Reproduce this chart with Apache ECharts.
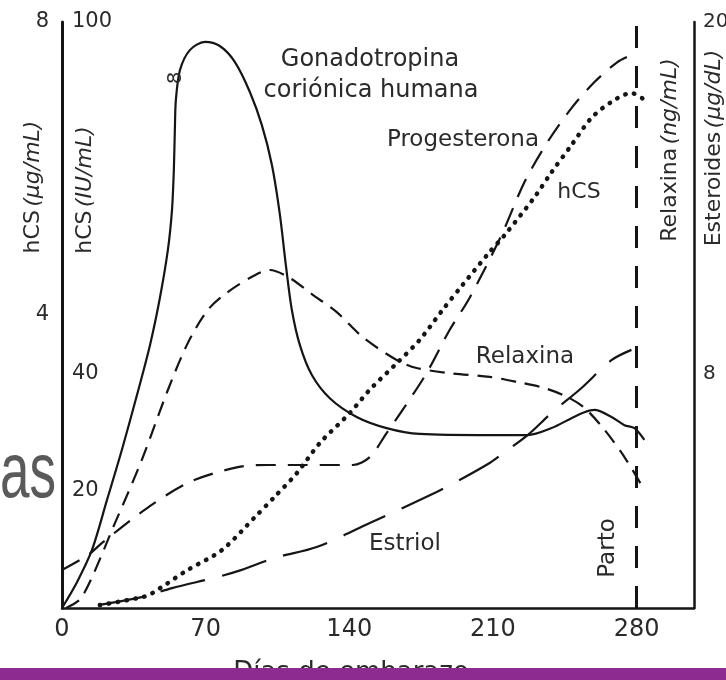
<!DOCTYPE html>
<html><head><meta charset="utf-8">
<script src="https://cdn.jsdelivr.net/npm/echarts@6/dist/echarts.min.js"></script>
<style>html,body{margin:0;padding:0;background:#fff;}#c{width:726px;height:680px;}</style>
</head><body><div id="c"></div>
<script>
// ---- data ----
const dayTicks = [0, 70, 140, 210, 280];
const hcgTickLabels = [20, 40, 100];      // hCS (IU/mL) axis, used for hCG curve
const hcsTickLabels = [4, 8];             // hCS (µg/mL)
const relaxinTickLabels = [0.5, 1.25];    // Relaxina (ng/mL)
const steroidTickLabels = [8, 20];        // Esteroides (µg/dL)
const partoDay = 280;

const hcgDays   = [0,7.3,14.6,21.9,29.2,36.5,42.9,47.7,51.6,53.6,54.5,55.0,55.5,57.5,62.3,69.6,76.9,84.2,91.5,97.4,102.3,106.2,109.1,112.0,115.9,121.7,130.5,143.6,158.2,174.3,208.4,226.9,238.6,248.3,254.6,259.5,267.8,274.1,279.0,283.8];
const hcgValues = [0,4.4,9.9,18.4,27.0,36.3,44.9,52.9,61.1,67.9,74.7,81.6,86.7,91.8,95.2,96.6,95.9,93.2,88.1,82.4,75.6,67.1,58.5,50.9,44.9,39.8,35.8,32.6,30.7,29.7,29.5,29.5,30.7,32.4,33.4,33.8,32.6,31.2,30.7,28.7];

const hcsDays   = [18.5,39.4,43.8,61.3,77.9,94.0,103.7,114.4,125.6,140.2,150.0,163.1,174.3,185.5,195.2,208.4,215.7,230.3,238.6,248.3,258.0,267.8,277.5,283.8];
const hcsValues = [0.04,0.15,0.20,0.52,0.79,1.24,1.52,1.84,2.25,2.66,2.98,3.34,3.66,4.07,4.41,4.86,5.09,5.61,5.95,6.32,6.69,6.91,7.03,6.94];

const progDays   = [0,12.7,19.5,38.9,61.3,85.7,100.3,115.9,141.7,150.0,158.2,166.0,177.7,188.9,198.6,214.2,225.4,236.6,248.3,259.5,270.7,277.5];
const progValues = [1.30,1.81,2.22,3.28,4.27,4.81,4.88,4.88,4.88,5.15,5.97,6.76,8.02,9.49,10.58,12.73,14.54,15.90,17.06,17.95,18.63,18.87];

const relaxDays   = [2,9.7,25.8,38.9,51.6,61.3,71.1,80.8,94.0,101.3,111.0,122.2,133.9,146.5,163.1,172.8,188.9,208.4,222.0,235.2,246.3,254.6,264.4,274.1,283.8];
const relaxValues = [0,0.023,0.181,0.316,0.465,0.565,0.636,0.674,0.710,0.721,0.704,0.668,0.631,0.578,0.529,0.512,0.501,0.493,0.482,0.469,0.450,0.427,0.380,0.322,0.252];

const estriolDays   = [17.5,39.4,53.6,75.9,87.6,103.7,124.1,150.0,182.6,193.8,208.4,215.7,226.9,238.6,253.2,267.8,277.5];
const estriolValues = [0.10,0.38,0.68,1.06,1.30,1.71,2.08,2.90,3.96,4.37,4.95,5.32,5.90,6.66,7.51,8.46,8.81];

// ---- chart ----
const zip = (a, b) => a.map((d, i) => [d, b[i]]);
const FONT = 'DejaVu Sans';
const INK = '#151515';
const TXT = '#2a2a2a';
const near = (list) => (v) => list.some(t => Math.abs(t - v) < 1e-9) ? String(v) : '';

const chart = echarts.init(document.getElementById('c'), null, {renderer: 'canvas'});

const lineBase = {type: 'line', symbol: 'none', silent: true, smooth: 0.3, z: 3};

chart.setOption({
  backgroundColor: '#ffffff',
  animation: false,
  grid: {left: 62, right: 32, top: 22, bottom: 72, containLabel: false, outerBoundsMode: 'none'},
  xAxis: {
    type: 'value', min: 0, max: 308, interval: 70,
    axisLine: {show: true, onZero: false, lineStyle: {color: INK, width: 2.5}},
    axisTick: {show: false}, splitLine: {show: false},
    axisLabel: {formatter: near(dayTicks), fontSize: 24, color: TXT, margin: 10, fontFamily: FONT}
  },
  yAxis: [
    { // hCG, IU/mL (inner left)
      type: 'value', position: 'left', min: 0, max: 100, interval: 20,
      axisLine: {show: true, onZero: false, lineStyle: {color: INK, width: 3}},
      axisTick: {show: false}, splitLine: {show: false},
      axisLabel: {inside: true, margin: 10, formatter: near(hcgTickLabels), fontSize: 21, color: TXT, fontFamily: FONT}
    },
    { // hCS, µg/mL (outer left)
      type: 'value', position: 'left', min: 0, max: 8, interval: 4,
      axisLine: {show: false}, axisTick: {show: false}, splitLine: {show: false},
      axisLabel: {margin: 13, formatter: near(hcsTickLabels), fontSize: 21, color: TXT, fontFamily: FONT}
    },
    { // Relaxina, ng/mL (at Parto line)
      type: 'value', position: 'right', offset: 57, min: 0, max: 1.25, interval: 0.25,
      axisLine: {show: false}, axisTick: {show: false}, splitLine: {show: false},
      axisLabel: {margin: 6, formatter: near(relaxinTickLabels), fontSize: 20, color: TXT, fontFamily: FONT}
    },
    { // Esteroides, µg/dL (outer right)
      type: 'value', position: 'right', offset: 0, min: 0, max: 20, interval: 4,
      axisLine: {show: true, onZero: false, lineStyle: {color: INK, width: 2.5}},
      axisTick: {show: false}, splitLine: {show: false},
      axisLabel: {margin: 9, formatter: near(steroidTickLabels), fontSize: 20, color: TXT, fontFamily: FONT}
    }
  ],
  series: [
    Object.assign({}, lineBase, {name: 'Gonadotropina coriónica humana', yAxisIndex: 0, data: zip(hcgDays, hcgValues),
      lineStyle: {color: INK, width: 2.2}}),
    Object.assign({}, lineBase, {name: 'hCS', yAxisIndex: 1, data: zip(hcsDays, hcsValues),
      lineStyle: {color: INK, width: 4.5, type: [0.5, 8.5], cap: 'round'}}),
    Object.assign({}, lineBase, {name: 'Progesterona', yAxisIndex: 3, data: zip(progDays, progValues),
      lineStyle: {color: INK, width: 2.2, type: [20, 12]}}),
    Object.assign({}, lineBase, {name: 'Relaxina', yAxisIndex: 2, data: zip(relaxDays, relaxValues),
      lineStyle: {color: INK, width: 2.2, type: [15, 9]},
      markLine: {silent: true, symbol: ['none', 'none'], label: {show: false},
        lineStyle: {color: INK, width: 3, type: [22, 18]}, data: [{xAxis: partoDay}]}}),
    Object.assign({}, lineBase, {name: 'Estriol', yAxisIndex: 3, data: zip(estriolDays, estriolValues),
      lineStyle: {color: INK, width: 2.2, type: [46, 18]}})
  ],
  graphic: [
    {type: 'text', x: 33, y: 187, rotation: Math.PI / 2, style: {text: '{a|hCS} {b|(µg/mL)}', align: 'center', verticalAlign: 'middle',
      rich: {a: {fontSize: 22, fontFamily: FONT, fill: TXT}, b: {fontSize: 22, fontFamily: FONT, fontStyle: 'italic', fill: TXT}}}},
    {type: 'text', x: 85, y: 190, rotation: Math.PI / 2, style: {text: '{a|hCS} {b|(IU/mL)}', align: 'center', verticalAlign: 'middle',
      rich: {a: {fontSize: 22, fontFamily: FONT, fill: TXT}, b: {fontSize: 22, fontFamily: FONT, fontStyle: 'italic', fill: TXT}}}},
    {type: 'text', x: 670, y: 150, rotation: Math.PI / 2, style: {text: '{a|Relaxina} {b|(ng/mL)}', align: 'center', verticalAlign: 'middle',
      rich: {a: {fontSize: 22, fontFamily: FONT, fill: TXT}, b: {fontSize: 22, fontFamily: FONT, fontStyle: 'italic', fill: TXT}}}},
    {type: 'text', x: 714, y: 148, rotation: Math.PI / 2, style: {text: '{a|Esteroides} {b|(µg/dL)}', align: 'center', verticalAlign: 'middle',
      rich: {a: {fontSize: 22, fontFamily: FONT, fill: TXT}, b: {fontSize: 22, fontFamily: FONT, fontStyle: 'italic', fill: TXT}}}},
    {type: 'text', x: 370, y: 60, style: {text: 'Gonadotropina', font: '24px "DejaVu Sans"', fill: TXT, align: 'center', verticalAlign: 'middle'}},
    {type: 'text', x: 371, y: 91, style: {text: 'coriónica humana', font: '24px "DejaVu Sans"', fill: TXT, align: 'center', verticalAlign: 'middle'}},
    {type: 'text', x: 539, y: 140, style: {text: 'Progesterona', font: '23px "DejaVu Sans"', fill: TXT, align: 'right', verticalAlign: 'middle'}},
    {type: 'text', x: 579, y: 192, style: {text: 'hCS', font: '22px "DejaVu Sans"', fill: TXT, align: 'center', verticalAlign: 'middle'}},
    {type: 'text', x: 525, y: 357, style: {text: 'Relaxina', font: '23px "DejaVu Sans"', fill: TXT, align: 'center', verticalAlign: 'middle'}},
    {type: 'text', x: 405, y: 544, style: {text: 'Estriol', font: '23px "DejaVu Sans"', fill: TXT, align: 'center', verticalAlign: 'middle'}},
    {type: 'text', x: 608, y: 548, rotation: Math.PI / 2, style: {text: 'Parto', font: '23px "DejaVu Sans"', fill: TXT, align: 'center', verticalAlign: 'middle'}},
    {type: 'text', x: 176, y: 78, rotation: Math.PI / 2, style: {text: '8', font: '20px "DejaVu Sans"', fill: TXT, align: 'center', verticalAlign: 'middle'}, z: 5},
    {type: 'text', x: 351, y: 673, style: {text: 'Días de embarazo', font: '26px "DejaVu Sans"', fill: TXT, align: 'center', verticalAlign: 'middle'}},
    {type: 'text', x: 56, y: 475, scaleX: 0.68, style: {text: 'as', font: '78px "Liberation Sans"', fill: '#5a5a5a', align: 'right', verticalAlign: 'middle'}, z: 10},
    {type: 'rect', shape: {x: 0, y: 668, width: 726, height: 12}, style: {fill: '#8e2b90'}, z: 20}
  ]
});
</script>
</body></html>
